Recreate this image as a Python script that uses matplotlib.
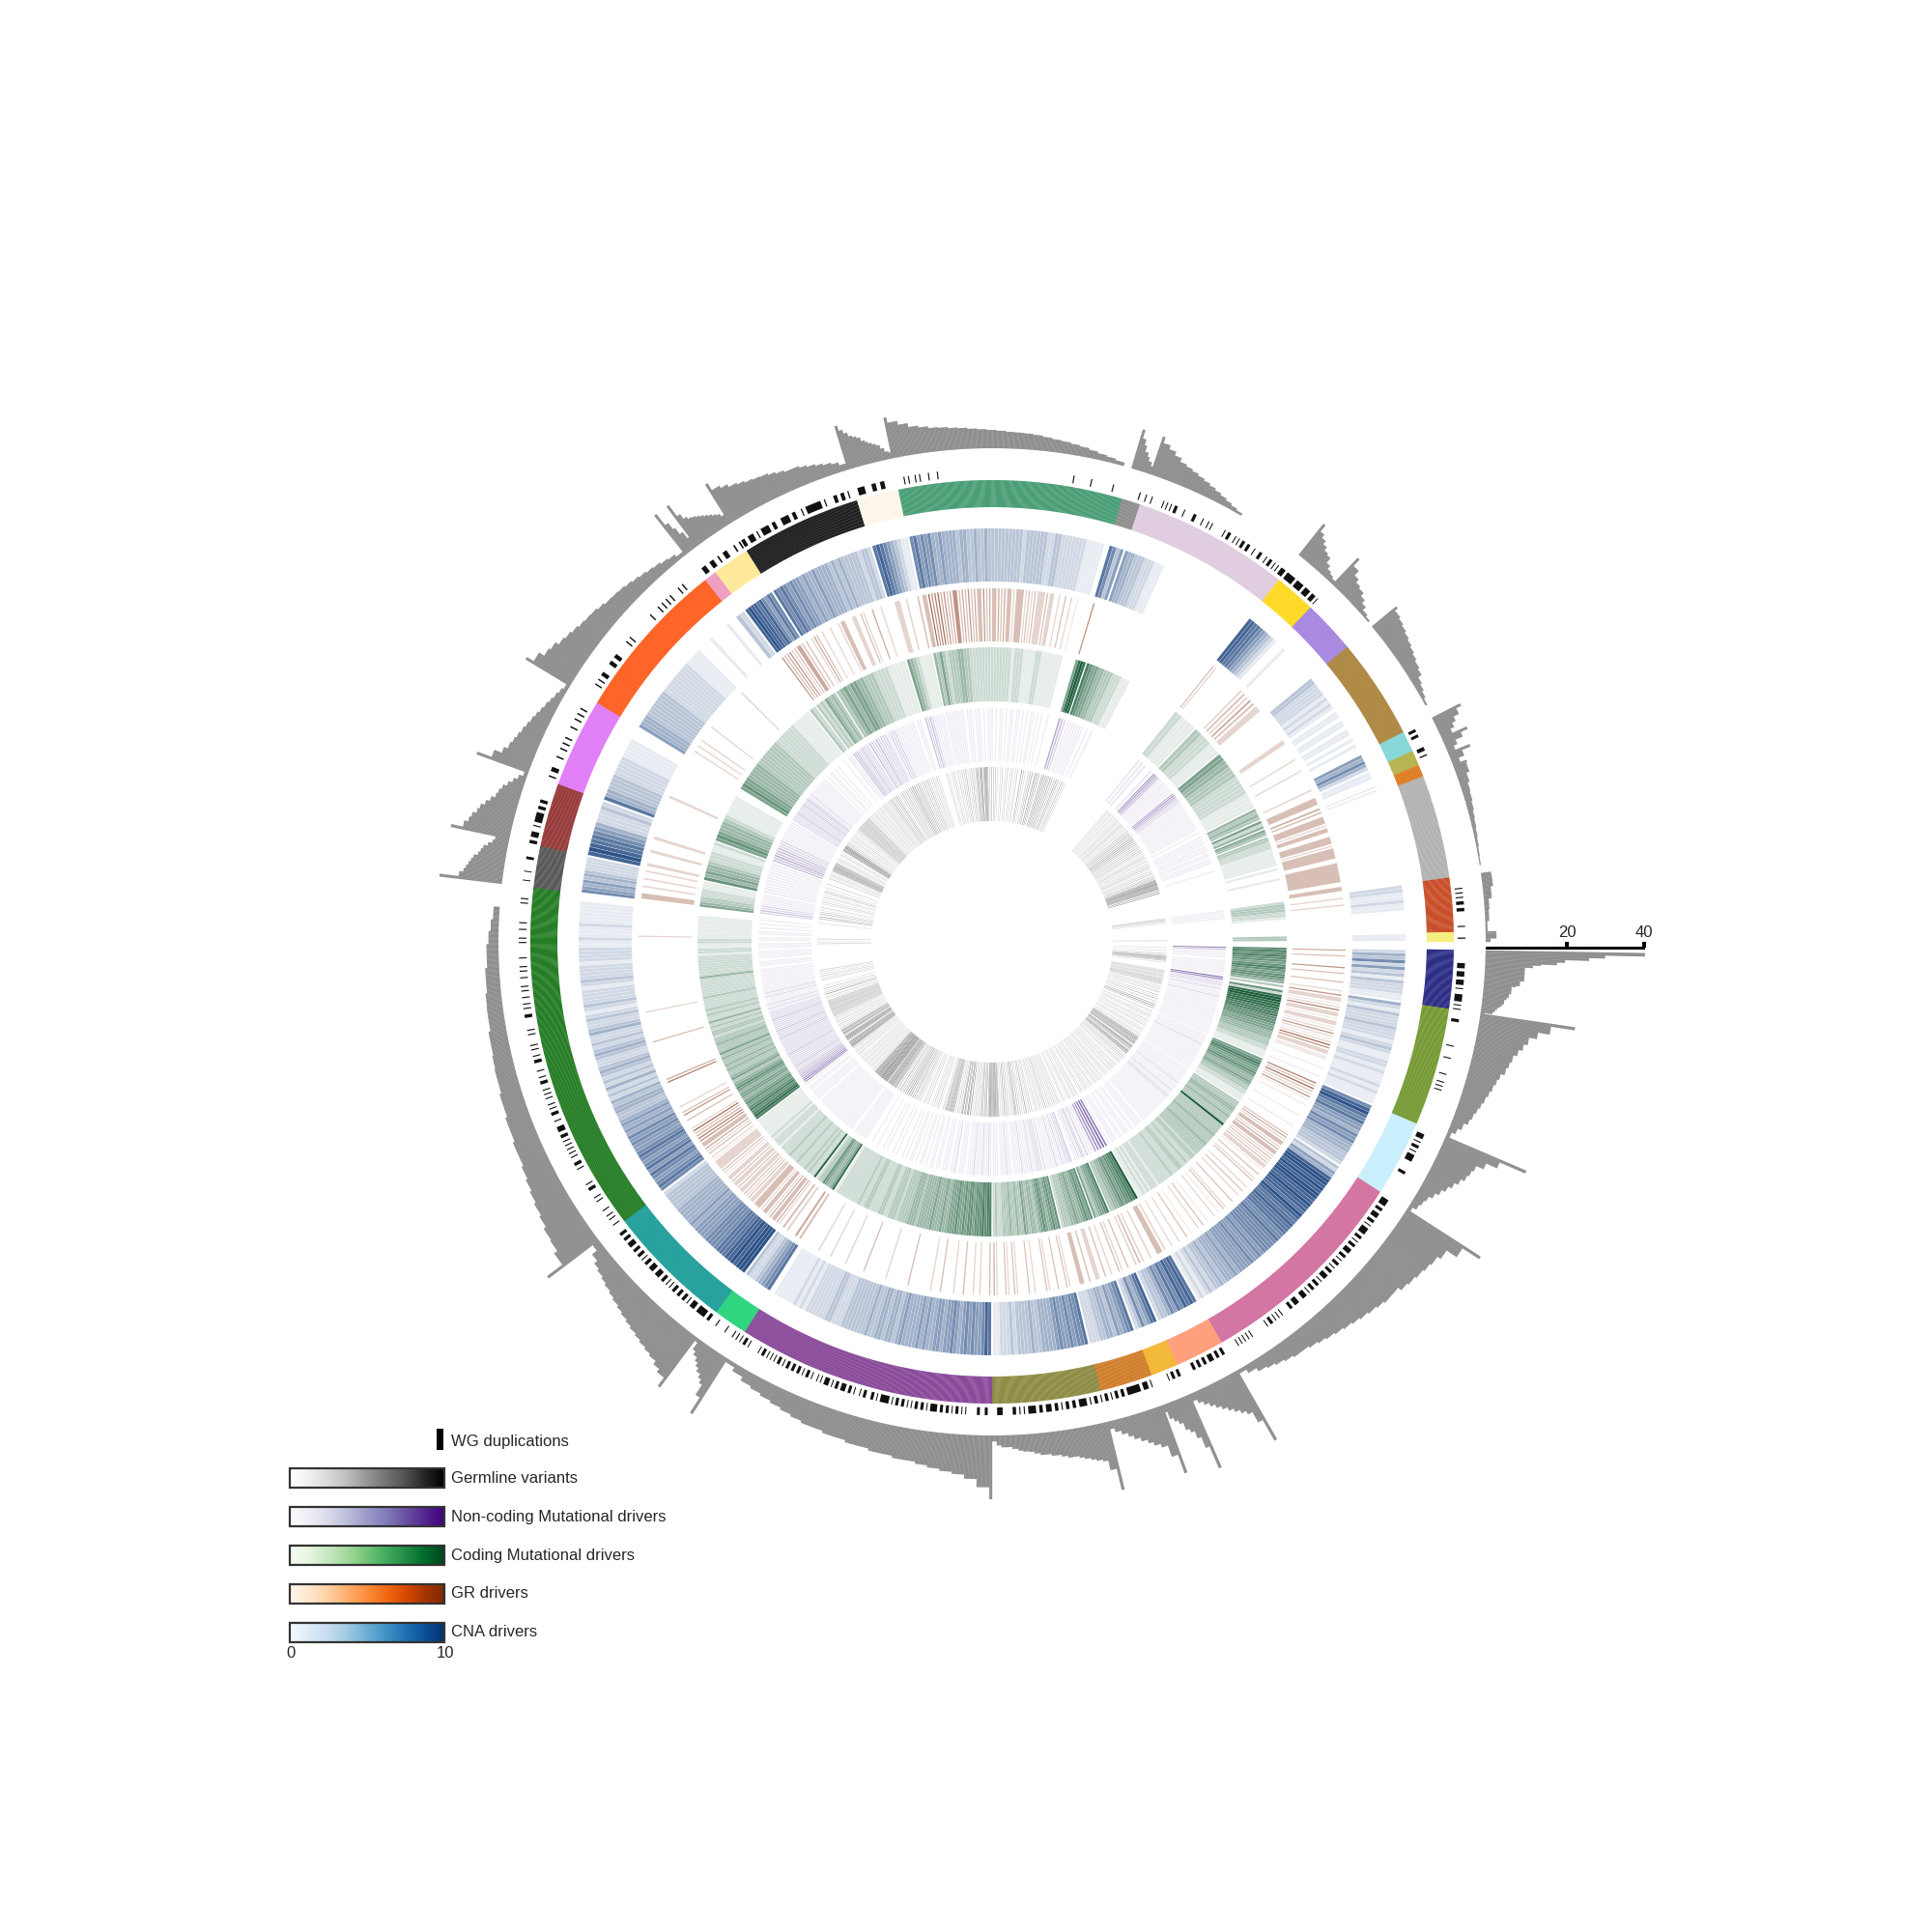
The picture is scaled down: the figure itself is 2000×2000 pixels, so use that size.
from matplotlib import pyplot as plt
from matplotlib.colors import LinearSegmentedColormap
from matplotlib.patches import Rectangle
import numpy as np

plt.rcParams['font.family'] = ['Liberation Sans', 'DejaVu Sans']

# sector borders, degrees clockwise from east
sector_edges = [1, 8.35, 23.2, 32.8, 60.2, 66.4, 69.8, 76.4, 90, 122.4, 126.7, 142.8, 186.75, 192, 200, 211.2,
                231.6, 233.2, 237.9, 253, 258.3, 286.4, 288.7, 308.4, 313.6, 320.3, 333, 335.6, 337.5, 339, 352,
                358.8, 360]
sector_colors = ['#2E2E86', '#769A34', '#C8EFFD', '#D2709F', '#FF9C78', '#F2B632', '#D07E2A', '#8E8C45',
                 '#8A4A9A', '#27D47A', '#1F9E9A', '#257D25', '#595959', '#963A3A', '#E07AF7', '#FF5E1F',
                 '#EF9BC0', '#FFE897', '#1E1E1E', '#FCF6E8', '#4A9E76', '#8E8E8E', '#DFCCDF', '#FFD91F',
                 '#A685DF', '#AD853F', '#82D6D6', '#B5B24A', '#E07B20', '#B2B2B2', '#C94F2A', '#F5EE78']
patient_step = 360 / 2660

# outer histogram, heights per sector in scale units, first value is the thin peak
hist_heights = [
    [40, 30, 26, 20, 18, 14, 12, 10, 10, 10, 10, 10, 10, 9, 9, 8, 7, 7, 7, 6.5, 6.5, 6, 5.5, 5.5, 5, 4.5, 4, 3.5, 3, 1],
    [24, 18, 15, 13, 12, 11, 10, 9.5, 9, 8, 7.5, 7, 6.5, 6, 5.5, 5, 4.5, 4, 3, 2, 1],
    [22, 15, 12, 10, 9.5, 9, 8, 7, 6, 5, 4, 3, 2.5, 2, 1],
    [22, 17, 14, 13, 12.5, 12, 11.5, 11, 10, 10, 9.5, 9, 8.5, 8, 7.5, 7, 6.5, 6, 5.5, 5, 5, 4.5, 4, 3.5, 3, 2, 1],
    [20, 14, 11, 10, 9, 8, 7, 6, 5, 4, 3, 2],
    [20, 14, 11, 9, 8, 6, 5, 4, 2],
    [18, 13, 10, 9, 8, 7, 6, 5, 4, 3, 2],
    [17.5, 12, 9.5, 9, 8.5, 8, 7.5, 7, 7, 6.5, 6, 6, 5.5, 5.5, 5, 4.5, 4.3, 4, 3.5, 3, 3, 2.5, 1.5],
    [16, 13, 11, 10, 9.5, 9, 8.5, 8, 8, 7.5, 7.5, 7, 7, 6.5, 6.5, 6, 6, 5.5, 5, 4.5, 4, 3.5, 3, 2, 1],
    [16.5, 12, 9, 8, 7, 6, 5, 4, 3, 1],
    [15.6, 13, 12, 11, 10.5, 10, 9.5, 9, 8.5, 8, 7.5, 7, 6.5, 6, 5.5, 5, 4.5, 3.5, 2],
    [15.8, 11, 10, 9.7, 9, 8.5, 8, 7.5, 7, 6.5, 6.5, 6, 6, 5.5, 5.5, 5, 5, 4.8, 4.5, 4.5, 4, 4, 3.9, 3.5, 3.5, 3, 3,
     2.5, 2, 1.5, 0, 0],
    [15.8, 11, 10, 9.5, 9, 8.5, 8, 7, 6.5, 6, 5, 4, 3.5],
    [15, 12, 11, 10.5, 9.5, 9, 8, 7, 6, 5.6, 5, 4, 3, 2, 1],
    [13.8, 10, 8, 7, 6.5, 6, 5.5, 5, 4.5, 4, 3.5, 3, 2.5, 2, 1.5, 1],
    [13, 11, 9.5, 9, 8, 7.5, 7, 6.5, 6.2, 6, 5.5, 5, 4.8, 4.6, 4.2, 3.8, 3.4, 3, 2.7, 2.2, 1.8, 1.1],
    [12.6, 9, 7, 5, 3],
    [12.5, 9, 7.5, 6.8, 6.5, 6, 5.5, 5, 4.5, 4, 3.5, 2.7],
    [11.6, 9.5, 8.8, 8, 7.5, 7, 6.7, 6.5, 6, 5.5, 5, 5, 4.5, 4, 3.5, 3, 2.5, 1.7],
    [11.4, 10, 9, 8, 7.5, 7, 6, 5.5, 5, 4.5, 4, 3, 2, 1.6],
    [10.4, 9, 8, 7, 6.5, 6, 5.8, 5.5, 5.3, 5, 4.8, 4.6, 4.4, 4.2, 4.1, 4, 3.8, 3.5, 3.2, 3, 2.7, 2.4, 2, 1.6, 1.3, 0.9, 0],
    [10.2, 8, 6.5, 5, 4, 3, 2],
    [10, 8.5, 7.5, 6.5, 5.5, 5, 4.5, 4, 3.5, 3, 2.5, 2, 1.5, 1, 0.6, 0, 0, 0, 0, 0, 0, 0, 0, 0, 0],
    [10, 8, 7, 6, 5, 4.5, 3, 2, 1.5, 1],
    [9.2, 7, 5.5, 4.5, 4, 3, 2, 1, 0.5, 0],
    [7.9, 7, 6.5, 6, 5.5, 5, 4.5, 4, 3.5, 3, 2, 1.5, 1, 0.5, 0, 0],
    [7.9, 6.5, 5, 4, 3],
    [6.9, 5, 3, 2],
    [5.8, 3.5, 2],
    [3.6, 3.3, 2.5, 2, 1.8, 1.5, 1.2, 1, 0.8, 0.6, 0.4, 0.3, 0],
    [2.5, 2.6, 2, 1.2, 1, 0.5],
    [2.7, 2.7, 1.2],
]

# WG duplications, one character for about a quarter of a degree
wg_dup_marks = [
    '00000011101110111010011110101',
    '00001100000000000100000100000001000101010000000000000000000',
    '00011101011010111100000110000000000000',
    '01111011011101101011110110101101110110101101011011101011011010111001110110000101010110100000000101010101000000',
    '0110110111011011011000000',
    '11011010000000',
    '01011101111111011011010110',
    '10110101111011011010110111011011110101011000011100',
    '0011001100000101011010110110111101011011010101101101011111010110011010010110111011010111010100101101011011011010110101010110100000101101',
    '0101000100001000',
    '11011111011101011011011010101101110111011010110110111011011000',
    '01001010010000101000110100000001011001010101010110111001001101010010101001101001000110100101000010100000110010100100101000100101000100000010100010010000000010100000',
    '000100001000000110000000',
    '110111001011111011011000000000',
    '0101100010010101000100101010000',
    '0000010101100011011000001010000000000100010101010001010000000',
    '0110',
    '110101100101',
    '11011101011110110011110110010111111101000110110100',
    '011100110110000',
    '0001010010100010001000000000000000000000000000000000000000000000000000000000000100000001000000000100000',
    '00000010',
    '0100100000101010110001000011000100101000000101100101011011001001100101101010111',
    '011111101111101111011101',
    '00000000000000000000000000',
    '000000000000000000000000000000000000000000000000000000',
    '01101100000',
    '110100',
    '000000',
    '0000000000000000000000000000000000000000000000000000',
    '0000010101011011000000100',
    '0010',
]

# heat rings: one digit per slot, 0 empty to 9 darkest
cna_levels = [
    '243625231322211',
    '421322232221232112212111212111',
    '6897675546564443332',
    '3254899898998898879877877766766666565565555454443433232121',
    '787867564332',
    '8754632',
    '7654534433222',
    '766565565444433433332322211',
    '786556565456554554454544445434434433433333332223322222212121111110',
    '76543223',
    '9998988777666655554544444333332',
    '6765675765676556564545433443423242323432234323224322321232222123222212222112111211111100',
    '65453432222',
    '8987765422232',
    '74433332222211111000',
    '5444333333332222222222111110000100000100',
    '32',
    '8988786576',
    '767656554544544443434333332332',
    '7876543211',
    '67565644544443443343343333333333233333322332222222111110',
    '7635',
    '5443332221110000000000000000000000000000',
    '8877654321',
    '0010000000000',
    '33222212121011011011010100',
    '54642',
    '110',
    '01010',
    '00000000000000000000000000',
    '2211211000000',
    '11',
]
gr_levels = [
    '403000503003002',
    '522126221221252127522110010010',
    '6373251010001000100',
    '3423324332323221030230020302003002301020010302001030020020',
    '233020232',
    '030230',
    '203022030330',
    '0230030023000203000230230024',
    '300202003002000300200000030000002000000300000200002000200000',
    '34023',
    '2433423323332232322322322123222212',
    '3243356437200305302000000006400000000000030000000002000000000000000000000000200000000000',
    '33020202',
    '2020200',
    '000020000000',
    '00202020000200000000000002000000000000',
    '00',
    '534523443',
    '302430200200233002203200400200',
    '02202003',
    '33756745345534353433534334343323332323222322020302010000',
    '5000',
    '0000000000000000000000000000000000000000',
    '3200000000',
    '023243220',
    '000000000220000020002000',
    '0020',
    '33',
    '43',
    '33323303332333303333333033',
    '020200000000',
    '00',
]
coding_levels = [
    '676766567656654',
    '306289988877766655544433322111',
    '5676556544543322111',
    '3334433433393333343333433333233223223322232222221222121211',
    '977665654433',
    '7655435',
    '6565445443332',
    '6565456543443453343343332232',
    '77676665665655655544544454444434443333233322332222332232222222221',
    '854456332',
    '82232322232223222212221211111111',
    '7876765654554565435433434334353334332332324223232222322222224222222221221122111111111000',
    '5433222111',
    '645443222112',
    '5654443211111100',
    '565544444333333332222222111111',
    '32',
    '323254343',
    '34545544333222211111',
    '54321111',
    '43532333443322222222222222122211112211111110000',
    '5898',
    '76554433322211100000000000000000',
    '221111',
    '33222111',
    '5544333222221111',
    '4343',
    '524',
    '543',
    '33222111111101000100000000',
    '2333221000000',
    '33',
]
noncoding_levels = [
    '631111011111111',
    '762221211121111111111111111111',
    '1111121111111111111',
    '1111111121111211221111111111111111011110110111011011101',
    '67654112',
    '2312110',
    '322121121111',
    '2122211211112111101121110111',
    '12112111211101110211011101101101011010110101001010010100100100',
    '11111110',
    '11111111111111111111101111101101',
    '56544332232222223222222223222322222322221212111212111111111111011101111011101101101010100',
    '232211111',
    '11111111111',
    '33433322211111111',
    '2222322223223212111111111101011010100010',
    '11',
    '333223222',
    '322322221222111111110110',
    '323211111',
    '111111111011101110101110101101011011010101101010010000',
    '432',
    '1111111010100000000000000000000',
    '11101',
    '5543111111111',
    '4543221111111111111111010',
    '1111',
    '111',
    '111',
    '11100010000000000000000000',
    '11110000000',
    '00',
]
germline_levels = [
    '0020020030445534020000',
    '002232223222424232020302030030204003005060400',
    '30020302003020203002030200302',
    '545635464046535046453030403020302003020302030020302003020302030200302020302003020',
    '0302030020302002030',
    '0203020302',
    '20302040302030203020',
    '30302050302030404340302030405030204546565',
    '66640434043303030302060560450640303020444544344303000203020302000302030020304030504050605050403050',
    '4045454665656',
    '676866786576656530302030203020302030200302030203',
    '575656504657560465356030203020302030333333343333433333020300603020300200000302030202030000000000000000000000000030200300000000000000020',
    '0040500403020030',
    '020302003020040300200030',
    '000302030204555655453020302003020',
    '5656756040302030203020203033343334334333332030203020302030203',
    '30302',
    '30405030405030',
    '304030403040506050405040304030403020302030200',
    '0000030200203020',
    '302030304020304030345055605565403040303020020300203002030020300050302003040500605040',
    '5060505',
    '40504030504020403020000000000000000000000000000000000000000',
    '0000000020302030',
    '30202030302040302030',
    '40405040506050504030403040302030402030',
    '30304030',
    '303040',
    '40405',
    '565676565650606000000000000000000000000',
    '23230200000000000000',
    '02',
]

# radii in pixels of the finished picture
ring_bounds = [(373, 428), (311, 366), (249, 305), (187, 242), (125, 181)]
ring_fill = [0.92, 0.42, 0.92, 0.55, 0.62]
ring_merge = [False, True, False, False, False]
ring_tops = ['#2D5288', '#8A3F22', '#1A5C38', '#5B3D93', '#484848']
all_levels = [cna_levels, gr_levels, coding_levels, noncoding_levels, germline_levels]

legend_names = ['Germline variants', 'Non-coding Mutational drivers', 'Coding Mutational drivers', 'GR drivers', 'CNA drivers']
legend_cmaps = ['Greys', 'Purples', 'Greens', 'Oranges', 'Blues']
legend_tops = [1520, 1560, 1600, 1639.5, 1679.5]


def draw_runs(ax, marks, bounds, color_of, shrink, pad, merge=True):
    # slots of one sector, equal neighbours merged into one bar if asked
    r_in, r_out = bounds
    th, wd, col = [], [], []
    for i, s in enumerate(marks):
        start, end = sector_edges[i] + pad, sector_edges[i + 1] - pad
        step = (end - start) / len(s)
        j = 0
        while j < len(s):
            k = j
            while merge and k + 1 < len(s) and s[k + 1] == s[j]:
                k += 1
            if s[j] != '0':
                w = (k - j + 1) * step
                th.append(start + (j * step) + w / 2)
                wd.append(w - step * (1 - shrink))
                col.append(color_of(int(s[j])))
            j = k + 1
    ax.bar(np.radians(th), r_out - r_in, width=np.radians(wd), bottom=r_in, color=col, linewidth=0)


fig = plt.figure(figsize=(10, 10), dpi=200)
R = 720
ax = fig.add_axes([(1027 - R) / 2000, (2000 - 975 - R) / 2000, 2 * R / 2000, 2 * R / 2000], projection='polar')
ax.set_theta_zero_location('E')
ax.set_theta_direction(-1)
ax.set_rlim(0, R)
ax.axis('off')

unit = 165 / 40
for i, heights in enumerate(hist_heights):
    n = max(int(round((sector_edges[i + 1] - sector_edges[i]) / patient_step)), len(heights))
    step = (sector_edges[i + 1] - sector_edges[i]) / n
    th = sector_edges[i] + step * (np.arange(n) + 0.5)
    # sector ring and histogram share one thin bar per patient, a bit overlapped so only faint seams stay
    ax.bar(np.radians(th), 28, width=np.radians(step * 1.3), bottom=450, color=sector_colors[i], linewidth=0)
    # the peak takes two patients, the other values share the rest
    idx = np.zeros(n, dtype=int)
    idx[2:] = 1 + (np.arange(n - 2) * (len(heights) - 1)) // (n - 2)
    ax.bar(np.radians(th), np.array(heights)[idx] * unit, width=np.radians(step * 1.3), bottom=511, color='#8F8F8F', linewidth=0)

# WG duplication ticks
draw_runs(ax, wg_dup_marks, (482, 490), lambda v: '#111111', 0.5, 0)

# heat rings
for levels, bounds, fill, merge, top in zip(all_levels, ring_bounds, ring_fill, ring_merge, ring_tops):
    cmap = LinearSegmentedColormap.from_list('ring', ['#FFFFFF', top])
    draw_runs(ax, levels, bounds, lambda v, c=cmap: c(v / 9), fill, 0.12, merge)

# overlay in pixel coordinates for legend and scale
ov = fig.add_axes([0, 0, 1, 1])
ov.axis('off')
ov.patch.set_alpha(0)

txt = '#262626'
fs = 6.0
gradient = np.linspace(0, 1, 256).reshape(1, -1)
for name, cmap, y0 in zip(legend_names, legend_cmaps, legend_tops):
    ov.imshow(gradient, cmap=cmap, extent=[300, 460, y0 + 20, y0], aspect='auto', vmin=0, vmax=1)
    ov.add_patch(Rectangle((300, y0), 160, 20, fill=False, edgecolor='#333333', linewidth=0.8))
    ov.text(467, y0 + 10.5, name, fontsize=fs, color=txt, va='center', ha='left')
ov.set_xlim(0, 2000)
ov.set_ylim(2000, 0)
ov.add_patch(Rectangle((452, 1479), 7, 22, color='black', linewidth=0))
ov.text(467, 1492, 'WG duplications', fontsize=fs, color=txt, va='center', ha='left')
ov.text(301, 1711.5, '0', fontsize=fs, color=txt, va='center', ha='center')
ov.text(461, 1711.5, '10', fontsize=fs, color=txt, va='center', ha='center')

# scale bar for the histogram
ov.add_patch(Rectangle((1538, 979.5), 165, 3, color='black', linewidth=0))
for x, lab in zip([1622, 1702], ['20', '40']):
    ov.add_patch(Rectangle((x - 2, 975), 4, 6, color='black', linewidth=0))
    ov.text(x, 965, lab, fontsize=fs, color=txt, va='center', ha='center')

plt.savefig('out.png', dpi=200, facecolor='white')
